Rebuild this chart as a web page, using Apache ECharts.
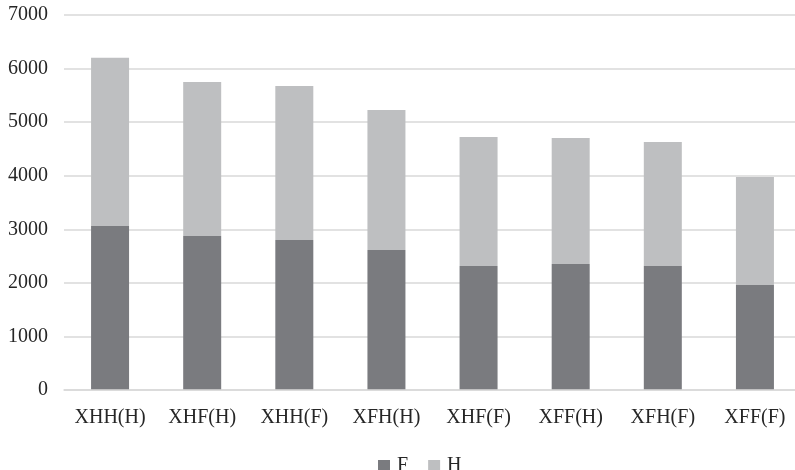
<!DOCTYPE html>
<html>
<head>
<meta charset="utf-8">
<script src="https://cdn.jsdelivr.net/npm/echarts@6/dist/echarts.min.js"></script>
<style>
html,body{margin:0;padding:0;background:#fff;}
#chart{width:795px;height:470px;}
</style>
</head>
<body>
<div id="chart"></div>
<script>
var categories = ['XHH(H)', 'XHF(H)', 'XHH(F)', 'XFH(H)', 'XHF(F)', 'XFF(H)', 'XFH(F)', 'XFF(F)'];
var valuesF = [3060, 2875, 2800, 2613, 2315, 2352, 2315, 1960];
var valuesH = [3140, 2875, 2875, 2614, 2408, 2352, 2314, 2016];
var yTicks = [0, 1000, 2000, 3000, 4000, 5000, 6000, 7000];

var FONT = '"Liberation Serif", "Times New Roman", serif';
var chart = echarts.init(document.getElementById('chart'), null, {renderer: 'canvas'});
chart.setOption({
  animation: false,
  backgroundColor: '#ffffff',
  textStyle: {fontFamily: FONT},
  grid: {left: 64, right: -6, top: 15, bottom: 80, containLabel: false, outerBoundsMode: 'none'},
  legend: {
    data: ['F', 'H'],
    left: 373,
    top: 451,
    icon: 'rect',
    itemWidth: 12,
    itemHeight: 12,
    itemGap: 20,
    textStyle: {fontFamily: FONT, fontSize: 20, color: '#262626', padding: [0, 0, 0, 2]}
  },
  xAxis: {
    type: 'category',
    data: categories,
    z: 5,
    axisLine: {show: true, lineStyle: {color: '#d9d9d9', width: 1.5}},
    axisTick: {show: false},
    axisLabel: {fontFamily: FONT, fontSize: 20, color: '#262626', margin: 18, interval: 0}
  },
  yAxis: {
    type: 'value',
    min: yTicks[0],
    max: yTicks[yTicks.length - 1],
    interval: 1000,
    axisLine: {show: false},
    axisTick: {show: false},
    splitLine: {lineStyle: {color: '#d9d9d9', width: 1.5}},
    axisLabel: {fontFamily: FONT, fontSize: 20, color: '#262626', margin: 16,
      formatter: function (v) { return String(v); }}
  },
  series: [
    {name: 'F', type: 'bar', stack: 'total', data: valuesF, barWidth: 38, itemStyle: {color: '#7a7b7f'}},
    {name: 'H', type: 'bar', stack: 'total', data: valuesH, barWidth: 38, itemStyle: {color: '#bebfc1'}}
  ]
});
</script>
</body>
</html>
